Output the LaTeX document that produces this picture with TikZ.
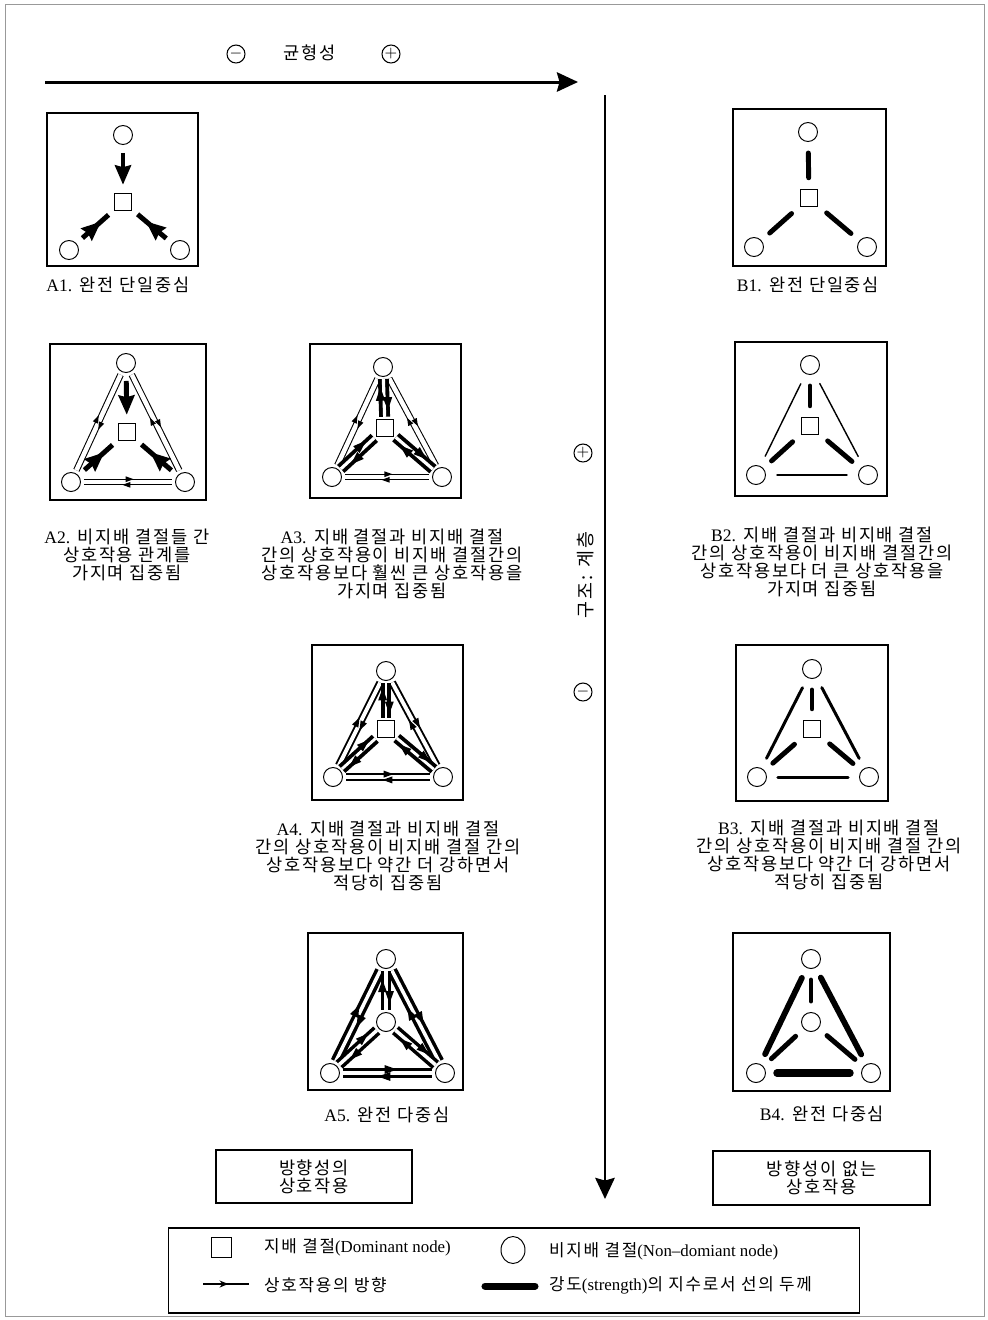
\documentclass[tikz,border=0pt]{standalone}
\usepackage{fontspec}
\setmainfont{Liberation Serif}
\newfontfamily\kr[LetterSpace=10]{Noto Sans CJK KR}
\usetikzlibrary{arrows.meta,decorations.markings,shapes.geometric,positioning}

\begin{document}
\begin{tikzpicture}[x=0.02cm,y=-0.02cm,every node/.style={font=\kr\fontsize{10pt}{10.2pt}\selectfont}]
  \tikzset{panel/.style n args={2}{draw,line width=0.7pt,minimum width=#1,minimum height=#2,inner sep=0pt},
    nd/.style={draw,circle,line width=0.55pt,minimum size=0.38cm,inner sep=0pt},
    dom/.style={draw,rectangle,line width=0.55pt,minimum size=0.35cm,inner sep=0pt},
    captxt/.style={align=center},
    axis/.style={line width=1.7pt,-{Stealth[length=12pt,width=11pt,inset=1.5pt]}},
    sgn/.style={draw,circle,line width=0.6pt,minimum size=0.36cm,inner sep=0pt,font=\small},
    lgtxt/.style={anchor=west,font=\kr\fontsize{9.6pt}{10pt}\selectfont},
    bline/.style={line width=#1,line cap=round,shorten >=0.22cm,shorten <=0.22cm},
    sarrow/.style={line width=2.8pt,shorten >=0.14cm,shorten <=0.16cm,postaction={decorate},
        decoration={markings,mark=at position #1 with {\arrow{Stealth[length=11pt,width=9pt,inset=1pt]}}}},
    earrow/.style={line width=2.8pt,shorten >=0.16cm,shorten <=0.16cm,-{Stealth[length=11pt,width=9pt,inset=1pt]}},
    twoway/.style n args={5}{draw,double,line width=#1,double distance=#2,shorten >=0.06cm,shorten <=0.06cm,
        postaction={decorate},decoration={markings,
        mark=at position #3 with {\fill (0pt,{(#1+#2)/2}) -- (-#5,{(#1+#2)/2+0.36*#5}) -- (-#5,{(#1+#2)/2-0.36*#5}) -- cycle;},
        mark=at position #4 with {\fill (0pt,{-(#1+#2)/2}) -- (#5,{-(#1+#2)/2+0.36*#5}) -- (#5,{-(#1+#2)/2-0.36*#5}) -- cycle;}}},
    pairthin/.style={twoway={0.6pt}{2.6pt}{.56}{.44}{4.5pt}},
    pairmid/.style={twoway={1.1pt}{2.2pt}{.56}{.44}{5.5pt}},
    pairA3/.style={twoway={2.2pt}{1.8pt}{.8}{.25}{7.5pt},shorten >=0.04cm,shorten <=0.04cm},
    pairA4/.style={twoway={2.2pt}{1.6pt}{.85}{.18}{7pt},shorten >=0.04cm,shorten <=0.04cm},
    pairA5/.style={twoway={2pt}{2pt}{.6}{.4}{7pt}},
    pairA5in/.style={twoway={2pt}{2pt}{.8}{.25}{7pt},shorten >=0.05cm,shorten <=0.05cm}}

  \useasboundingbox (0,0) rectangle (988,1320);
  \draw[gray!80,line width=0.5pt] (5,4) rectangle (984,1316);

  % axes
  \coordinate (hs) at (45,82);
  \coordinate (he) at (578,82);
  \draw[axis] (hs) -- (he);
  \node[sgn] (hminus) at (236,54) {$-$};
  \node (htxt) at (310,53) {균형성};
  \node[sgn] (hplus) at (391,54) {$+$};
  \coordinate (vs) at (605,95);
  \coordinate (ve) at (605,1199);
  \draw[axis] (vs) -- (ve);
  \node[sgn] (vplus) at (583,453) {$+$};
  \node[rotate=90,font=\kr\fontsize{10.5pt}{11pt}\selectfont] (vtxt) at (586,575) {구조: 계층};
  \node[sgn] (vminus) at (583,692) {$-$};

  % A1
  \node[panel={3.02cm}{3.06cm}] (a1box) at (122.5,189.5) {};
  \node[nd] (a1t) at (123,135) {};
  \node[dom] (a1c) at (123,202) {};
  \node[nd] (a1l) at (69,250) {};
  \node[nd] (a1r) at (180,250) {};
  \draw[earrow] (a1t) -- (a1c);
  \draw[sarrow=.66] (a1l) -- (a1c);
  \draw[sarrow=.66] (a1r) -- (a1c);
  \node[captxt] (a1cap) at (118,285) {{\rmfamily A1.} 완전 단일중심};

  % A2
  \node[panel={3.12cm}{3.12cm}] (a2box) at (128,422) {};
  \node[nd] (a2t) at (126,363) {};
  \node[dom] (a2c) at (127,432) {};
  \node[nd] (a2l) at (71,482) {};
  \node[nd] (a2r) at (185,482) {};
  \draw[pairthin] (a2l) -- (a2t);
  \draw[pairthin] (a2t) -- (a2r);
  \draw[pairthin] (a2l) -- (a2r);
  \draw[earrow] (a2t) -- (a2c);
  \draw[sarrow=.66] (a2l) -- (a2c);
  \draw[sarrow=.66] (a2r) -- (a2c);
  \node[captxt] (a2cap) at (127,555) {{\rmfamily A2.} 비지배 결절들 간\\상호작용 관계를\\가지며 집중됨};

  % A3
  \node[panel={3.02cm}{3.08cm}] (a3box) at (385.5,421) {};
  \node[nd] (a3t) at (383,367) {};
  \node[dom] (a3c) at (385,428) {};
  \node[nd] (a3l) at (332,477) {};
  \node[nd] (a3r) at (442,477) {};
  \draw[pairthin] (a3l) -- (a3t);
  \draw[pairthin] (a3t) -- (a3r);
  \draw[pairthin] (a3l) -- (a3r);
  \draw[pairA3] (a3t) -- (a3c);
  \draw[pairA3] (a3l) -- (a3c);
  \draw[pairA3] (a3r) -- (a3c);
  \node[captxt] (a3cap) at (392,564) {{\rmfamily A3.} 지배 결절과 비지배 결절\\간의 상호작용이 비지배 결절간의\\상호작용보다 훨씬 큰 상호작용을\\가지며 집중됨};

  % A4
  \node[panel={3.02cm}{3.1cm}] (a4box) at (387.5,722.5) {};
  \node[nd] (a4t) at (386,671) {};
  \node[dom] (a4c) at (386,729) {};
  \node[nd] (a4l) at (333,777) {};
  \node[nd] (a4r) at (443,777) {};
  \draw[pairmid] (a4l) -- (a4t);
  \draw[pairmid] (a4t) -- (a4r);
  \draw[pairmid] (a4l) -- (a4r);
  \draw[pairA4] (a4t) -- (a4c);
  \draw[pairA4] (a4l) -- (a4c);
  \draw[pairA4] (a4r) -- (a4c);
  \node[captxt] (a4cap) at (388,856) {{\rmfamily A4.} 지배 결절과 비지배 결절\\간의 상호작용이 비지배 결절 간의\\상호작용보다 약간 더 강하면서\\적당히 집중됨};

  % A5
  \node[panel={3.1cm}{3.14cm}] (a5box) at (385.5,1011.5) {};
  \node[nd] (a5t) at (386,959) {};
  \node[nd] (a5c) at (386,1022) {};
  \node[nd] (a5l) at (330,1073) {};
  \node[nd] (a5r) at (445,1073) {};
  \draw[pairA5] (a5l) -- (a5t);
  \draw[pairA5] (a5t) -- (a5r);
  \draw[pairA5] (a5l) -- (a5r);
  \draw[pairA5in] (a5t) -- (a5c);
  \draw[pairA5in] (a5l) -- (a5c);
  \draw[pairA5in] (a5r) -- (a5c);
  \node[captxt] (a5cap) at (387,1115) {{\rmfamily A5.} 완전 다중심};

  % B1
  \node[panel={3.06cm}{3.14cm}] (b1box) at (809.5,187.5) {};
  \node[nd] (b1t) at (808,132) {};
  \node[dom] (b1c) at (809,198) {};
  \node[nd] (b1l) at (754,247) {};
  \node[nd] (b1r) at (867,247) {};
  \draw[bline=2.8pt] (b1t) -- (b1c);
  \draw[bline=2.8pt] (b1l) -- (b1c);
  \draw[bline=2.8pt] (b1r) -- (b1c);
  \node[captxt] (b1cap) at (808,285) {{\rmfamily B1.} 완전 단일중심};

  % B2
  \node[panel={3.04cm}{3.08cm}] (b2box) at (811,419) {};
  \node[nd] (b2t) at (810,365) {};
  \node[dom] (b2c) at (810,426) {};
  \node[nd] (b2l) at (756,475) {};
  \node[nd] (b2r) at (868,475) {};
  \draw[bline=0.8pt] (b2l) -- (b2t);
  \draw[bline=0.8pt] (b2t) -- (b2r);
  \draw[bline=0.8pt] (b2l) -- (b2r);
  \draw[bline=2.8pt] (b2t) -- (b2c);
  \draw[bline=2.8pt] (b2l) -- (b2c);
  \draw[bline=2.8pt] (b2r) -- (b2c);
  \node[captxt] (b2cap) at (822,562) {{\rmfamily B2.} 지배 결절과 비지배 결절\\간의 상호작용이 비지배 결절간의\\상호작용보다 더 큰 상호작용을\\가지며 집중됨};

  % B3
  \node[panel={3.04cm}{3.12cm}] (b3box) at (812,723) {};
  \node[nd] (b3t) at (812,669) {};
  \node[dom] (b3c) at (812,729) {};
  \node[nd] (b3l) at (757,777) {};
  \node[nd] (b3r) at (869,777) {};
  \draw[bline=1.7pt] (b3l) -- (b3t);
  \draw[bline=1.7pt] (b3t) -- (b3r);
  \draw[bline=1.7pt] (b3l) -- (b3r);
  \draw[bline=2.8pt] (b3t) -- (b3c);
  \draw[bline=2.8pt] (b3l) -- (b3c);
  \draw[bline=2.8pt] (b3r) -- (b3c);
  \node[captxt] (b3cap) at (829,855) {{\rmfamily B3.} 지배 결절과 비지배 결절\\간의 상호작용이 비지배 결절 간의\\상호작용보다 약간 더 강하면서\\적당히 집중됨};

  % B4
  \node[panel={3.14cm}{3.16cm}] (b4box) at (811.5,1012) {};
  \node[nd] (b4t) at (811,959) {};
  \node[nd] (b4c) at (811,1022) {};
  \node[nd] (b4l) at (756,1073) {};
  \node[nd] (b4r) at (871,1073) {};
  \draw[bline=3.3pt] (b4l) -- (b4t);
  \draw[bline=3.3pt] (b4t) -- (b4r);
  \draw[bline=4.2pt] (b4l) -- (b4r);
  \draw[bline=2.8pt] (b4t) -- (b4c);
  \draw[bline=2.8pt] (b4l) -- (b4c);
  \draw[bline=2.8pt] (b4r) -- (b4c);
  \node[captxt] (b4cap) at (822,1114) {{\rmfamily B4.} 완전 다중심};

  % kinds of interaction
  \node[draw,line width=0.6pt,minimum width=3.92cm,minimum height=1.06cm,align=center] (dirbox) at (314,1176.5) {방향성의\\상호작용};
  \node[draw,line width=0.6pt,minimum width=4.34cm,minimum height=1.08cm,align=center] (undirbox) at (821.5,1178) {방향성이 없는\\상호작용};

  % legend
  \node[draw,line width=0.6pt,minimum width=13.84cm,minimum height=1.7cm] (legend) at (514,1270.5) {};
  \node[dom,minimum size=0.4cm] (lgsq) at (221,1247) {};
  \node[lgtxt] (lgsqt) at (258,1247) {지배 결절{\rmfamily (Dominant node)}};
  \node[draw,ellipse,line width=0.55pt,minimum width=0.48cm,minimum height=0.54cm,inner sep=0pt] (lgcir) at (513,1250) {};
  \node[lgtxt] (lgcirt) at (543,1251) {비지배 결절{\rmfamily (Non--domiant node)}};
  \coordinate (la) at (203,1284);
  \coordinate (lb) at (249,1284);
  \draw[line width=0.6pt,postaction={decorate},decoration={markings,mark=at position .55 with {\arrow{Stealth[length=5pt,width=4pt]}}}] (la) -- (lb);
  \node[lgtxt] (lgarrt) at (258,1285) {상호작용의 방향};
  \coordinate (lc) at (485,1286);
  \coordinate (ld) at (535,1286);
  \draw[line width=4pt,line cap=round] (lc) -- (ld);
  \node[lgtxt] (lglinet) at (543,1285) {강도{\rmfamily (strength)}의 지수로서 선의 두께};
\end{tikzpicture}
\end{document}
